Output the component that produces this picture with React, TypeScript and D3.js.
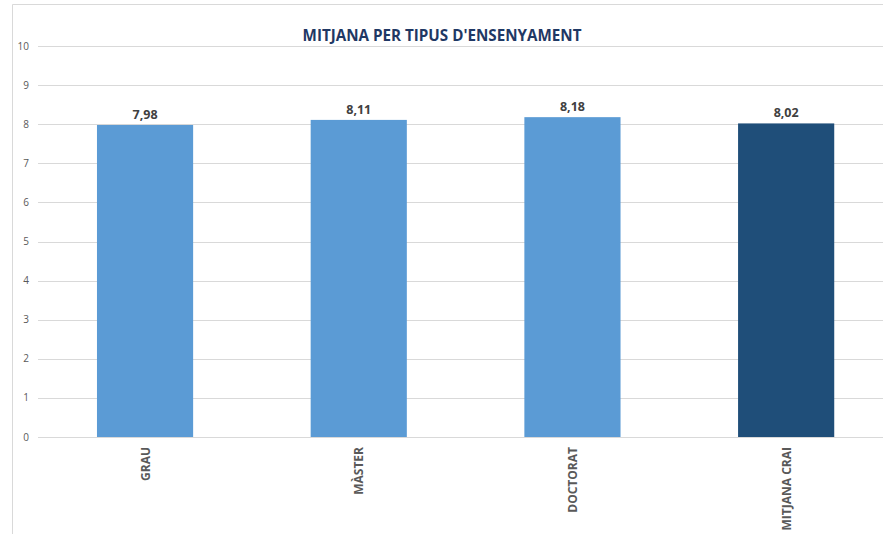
import React from "react";
import * as d3 from "d3";

const categories = ["GRAU", "MÀSTER", "DOCTORAT", "MITJANA CRAI"];
const values = [7.98, 8.11, 8.18, 8.02];
const valueLabels = ["7,98", "8,11", "8,18", "8,02"];
const barColors = ["#5B9BD5", "#5B9BD5", "#5B9BD5", "#1F4E79"];
const yTicks = [0, 1, 2, 3, 4, 5, 6, 7, 8, 9, 10];
const title = "MITJANA PER TIPUS D'ENSENYAMENT";

const W = 883;
const H = 534;
const FONT = "'Open Sans', 'Liberation Sans', sans-serif";

export default function App() {
  const x = d3.scaleBand<string>().domain(categories).range([38.2, 38.2 + 4 * 213.7]).paddingInner(0.55).paddingOuter(0.275);
  const y = d3.scaleLinear().domain([0, 10]).range([437, 46]);
  return (
    <svg width={W} height={H} style={{ position: "absolute", left: 0, top: 0, background: "#fff" }}>
      <line x1={12.5} x2={W} y1={4.5} y2={4.5} stroke="#d9d9d9" />
      <line x1={12.5} x2={12.5} y1={4.5} y2={H} stroke="#d9d9d9" />
      {yTicks.map((t) => (
        <g key={t}>
          <line x1={38} x2={W} y1={Math.round(y(t)) + 0.5} y2={Math.round(y(t)) + 0.5} stroke="#d9d9d9" />
          <text x={29} y={y(t) + 3.5} textAnchor="end" fontSize={10} fill="#595959" fontFamily={FONT}>
            {t}
          </text>
        </g>
      ))}
      {categories.map((c, i) => (
        <g key={c}>
          <rect x={x(c)} y={y(values[i])} width={x.bandwidth()} height={y(0) - y(values[i])} fill={barColors[i]} />
          <text x={x(c)! + x.bandwidth() / 2} y={y(values[i]) - 6} textAnchor="middle" fontSize={12.5} fontWeight="bold" fill="#404040" fontFamily={FONT}>
            {valueLabels[i]}
          </text>
          <text
            transform={`translate(${x(c)! + x.bandwidth() / 2 + 4.5},447) rotate(-90)`}
            textAnchor="end"
            fontSize={12}
            fontWeight="bold"
            fill="#595959"
            fontFamily={FONT}
          >
            {c}
          </text>
        </g>
      ))}
      <text x={442} y={41} textAnchor="middle" fontSize={15.2} fontWeight="bold" fill="#1F3864" fontFamily={FONT}>
        {title}
      </text>
    </svg>
  );
}
